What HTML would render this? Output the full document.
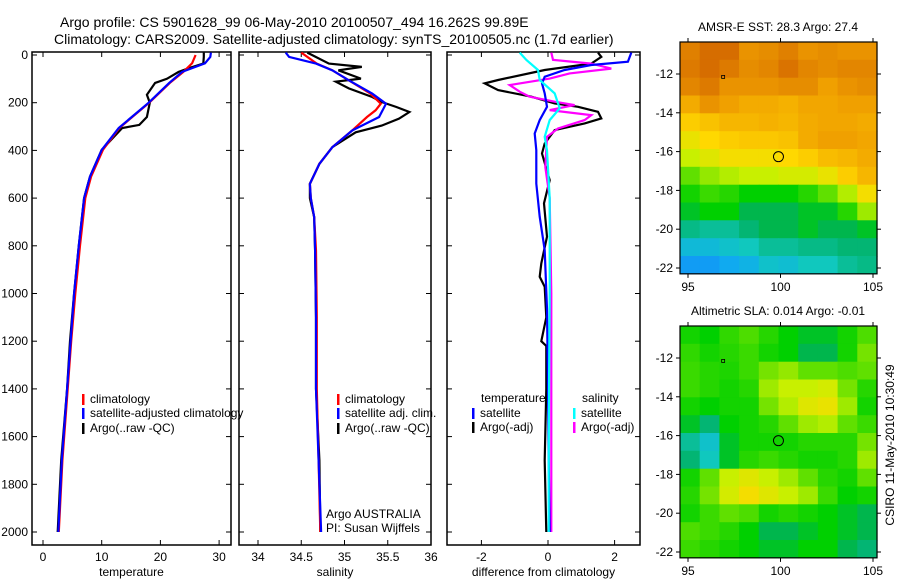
<!DOCTYPE html>
<html><head><meta charset="utf-8"><style>
body{margin:0;background:#fff;}
svg{display:block;font-family:"Liberation Sans",sans-serif;}
</style></head><body>
<svg id="c" width="900" height="580" viewBox="0 0 900 580">
<text x="60" y="27" font-size="14">Argo profile: CS 5901628_99 06-May-2010 20100507_494 16.262S 99.89E</text>
<text x="54" y="44" font-size="14">Climatology: CARS2009. Satellite-adjusted climatology: synTS_20100505.nc (1.7d earlier)</text>
</svg>
<script>
const NS='http://www.w3.org/2000/svg';
const svg=document.getElementById('c');
// ---- data ----
const depthTicks=[0,200,400,600,800,1000,1200,1400,1600,1800,2000];
const tempTicks=[0,10,20,30];
const salTicks=[34,34.5,35,35.5,36];
const diffTicks=[-2,0,2];
const tClimD=[0,35,71,117,200,306,398,510,600,800,1000,1200,1400,1700,2000];
const tClimV=[26,25.4,23.9,21.6,18.1,13.0,10.2,8.2,7.2,6.3,5.5,4.8,4.2,3.3,2.7];
const tSatD=[-10,8,35,71,117,200,306,398,510,600,800,1000,1200,1400,1700,2000];
const tSatV=[28.6,28.5,27.6,23.7,21.5,18,12.9,10,8,7,6.1,5.3,4.7,4.1,3.2,2.6];
const tArgoD=[-10,8,36,55,71,100,117,167,200,260,293,306,398,510,600,800,1000,1200,1400,1700,2000];
const tArgoV=[27.4,27.4,27.3,24.9,23.1,21.1,19.1,17.7,18.2,17.7,16.4,13.5,10,8,7,6.1,5.3,4.6,4.1,3.1,2.5];
const sClimD=[-10,36,64,106,162,204,232,260,316,386,456,540,600,680,820,1100,1400,1700,2000];
const sClimV=[34.5,34.68,34.86,35.05,35.3,35.42,35.36,35.26,35.09,34.86,34.71,34.6,34.61,34.65,34.67,34.68,34.68,34.7,34.72];
const sSatD=[-10,8,36,64,106,162,204,260,316,386,456,540,600,680,820,1100,1400,1700,2000];
const sSatV=[34.32,34.36,34.67,34.86,35.05,35.32,35.48,35.4,35.09,34.86,34.71,34.6,34.61,34.65,34.66,34.67,34.67,34.7,34.73];
const sArgoD=[-10,36,50,64,99,112,140,176,197,218,239,267,296,324,386,456,540,600,680,820,1100,1400,1700,2000];
const sArgoV=[34.57,34.82,35.2,34.93,35.19,34.9,35.05,35.32,35.43,35.6,35.75,35.63,35.43,35.13,34.86,34.71,34.6,34.6,34.65,34.66,34.67,34.67,34.71,34.72];
const dTSatD=[-10,28,42,63,91,119,161,217,273,329,399,539,678,818,1064,1400,1700,2000];
const dTSatV=[2.5,2.4,1.3,0.5,-0.1,-0.18,-0.1,-0.03,-0.25,-0.4,-0.35,-0.35,-0.25,-0.1,-0.03,0,0.02,0.05];
const dTArgoD=[-10,8,36,63,105,119,147,175,203,217,238,266,287,315,371,413,525,622,762,874,930,972,1100,1200,1220,1400,1700,2000];
const dTArgoV=[1.5,1.6,1.3,-0.1,-1.5,-1.9,-1.5,-0.5,0.2,0.9,1.5,1.6,1.1,0.2,-0.1,-0.18,0.05,-0.12,-0.03,-0.2,-0.25,-0.1,-0.05,-0.2,-0.05,-0.05,-0.1,-0.05];
const dSSatD=[-10,21,63,105,161,224,273,343,400,600,1000,1400,1700,2000];
const dSSatV=[-0.85,-0.65,-0.3,-0.25,0.2,0.35,0.05,-0.1,-0.03,0.05,0.05,0.03,0.02,0.02];
const dSArgoD=[-10,20,36,57,77,99,126,154,175,196,210,231,252,273,308,343,469,600,1000,1400,2000];
const dSArgoV=[0.1,0.15,1.3,1.9,0.65,0.05,-1.15,-0.85,-0.55,0.2,0.8,0.05,1.3,1.1,0.3,-0.03,-0.08,0.05,0.1,0.1,0.1];
const latTicks=[-12,-14,-16,-18,-20,-22];
const lonTicks=[95,100,105];
const sstGrid=[
[0.85,0.88,0.88,0.82,0.83,0.85,0.82,0.83,0.82,0.82],
[0.86,0.88,0.86,0.83,0.84,0.87,0.84,0.83,0.84,0.84],
[0.84,0.86,0.82,0.82,0.82,0.83,0.83,0.80,0.82,0.83],
[0.78,0.82,0.80,0.78,0.78,0.77,0.79,0.79,0.80,0.80],
[0.72,0.74,0.76,0.76,0.77,0.76,0.78,0.79,0.79,0.78],
[0.66,0.70,0.72,0.73,0.73,0.74,0.78,0.80,0.80,0.79],
[0.60,0.64,0.68,0.68,0.68,0.70,0.72,0.75,0.76,0.78],
[0.50,0.55,0.58,0.60,0.60,0.62,0.62,0.66,0.72,0.76],
[0.42,0.46,0.44,0.40,0.40,0.40,0.44,0.50,0.58,0.68],
[0.38,0.40,0.40,0.36,0.36,0.36,0.38,0.38,0.44,0.56],
[0.33,0.32,0.32,0.34,0.36,0.36,0.38,0.36,0.36,0.38],
[0.26,0.26,0.28,0.30,0.32,0.32,0.33,0.33,0.34,0.34],
[0.20,0.20,0.22,0.24,0.28,0.27,0.30,0.30,0.32,0.33]];
const slaGrid=[
[0.42,0.40,0.45,0.48,0.44,0.40,0.38,0.38,0.42,0.48],
[0.45,0.42,0.44,0.46,0.42,0.40,0.36,0.36,0.42,0.52],
[0.46,0.44,0.43,0.46,0.52,0.55,0.50,0.50,0.48,0.50],
[0.46,0.44,0.42,0.44,0.56,0.60,0.60,0.62,0.52,0.44],
[0.42,0.40,0.42,0.42,0.52,0.58,0.64,0.66,0.56,0.42],
[0.38,0.34,0.40,0.42,0.44,0.50,0.56,0.58,0.50,0.46],
[0.32,0.28,0.38,0.42,0.42,0.42,0.44,0.44,0.44,0.52],
[0.34,0.30,0.38,0.44,0.46,0.44,0.42,0.42,0.44,0.56],
[0.42,0.50,0.60,0.64,0.60,0.56,0.50,0.44,0.42,0.50],
[0.44,0.52,0.62,0.68,0.64,0.60,0.56,0.46,0.40,0.42],
[0.42,0.46,0.50,0.48,0.42,0.44,0.42,0.40,0.38,0.36],
[0.48,0.46,0.44,0.40,0.36,0.36,0.38,0.40,0.38,0.36],
[0.46,0.44,0.42,0.40,0.38,0.38,0.40,0.40,0.36,0.34]];
const argoLon=99.89, argoLat=-16.262;
// ---- helpers ----
function el(tag,attrs,parent){const e=document.createElementNS(NS,tag);for(const k in attrs)e.setAttribute(k,attrs[k]);(parent||svg).appendChild(e);return e;}
const yD=d=>55+d*0.2385;
function panel(x0,x1,xs,ticks,fmt,title,nm,showY){
  const g=el('g',{});
  
  
  el('rect',{x:x0,y:52,width:x1-x0,height:493,fill:'none',stroke:'#000','stroke-width':1.5},g);
  ticks.forEach(t=>{const x=xs(t);
    el('line',{x1:x,x2:x,y1:52,y2:57,stroke:'#000'},g);el('line',{x1:x,x2:x,y1:545,y2:540,stroke:'#000'},g);
    const tx=el('text',{x:x,y:561,'font-size':12,'text-anchor':'middle'},g);tx.textContent=fmt(t);
    
    });
  depthTicks.forEach(d=>{const y=yD(d);
    el('line',{x1:x0,x2:x0+5,y1:y,y2:y,stroke:'#000'},g);el('line',{x1:x1,x2:x1-5,y1:y,y2:y,stroke:'#000'},g);
    if(showY){const tx=el('text',{x:x0-4,y:y+4,'font-size':12,'text-anchor':'end'},g);tx.textContent=d;
      
      }});
  const tt=el('text',{x:(x0+x1)/2,y:576,'font-size':12,'text-anchor':'middle'},g);tt.textContent=title;
  
  
  return g;
}
function line(g,D,V,xs,col,nm,x0,x1){
  const cp='clip'+Math.round(x0);
  if(!document.getElementById(cp)){const c=el('clipPath',{id:cp});el('rect',{x:x0,y:52,width:x1-x0,height:493},c);}
  const p=el('polyline',{points:D.map((d,i)=>xs(V[i]).toFixed(1)+','+yD(d).toFixed(1)).join(' '),fill:'none',stroke:col,'stroke-width':2.2,'clip-path':'url(#'+cp+')'},g);
  
  
}
function legend(g,x,y,col,txt){
  el('rect',{x:x,y:y-9,width:2.5,height:11,fill:col},g);
  const t=el('text',{x:x+8,y:y,'font-size':12},g);t.textContent=txt;
  
  
}
// temperature panel
const xT=t=>43+t*5.87;
const gT=panel(32,231,xT,tempTicks,String,'temperature','temperature-panel',true);
line(gT,tArgoD,tArgoV,xT,'#000','temp-argo-line',32,231);
line(gT,tClimD,tClimV,xT,'#f00','temp-climatology-line',32,231);
line(gT,tSatD,tSatV,xT,'#00f','temp-satellite-line',32,231);
legend(gT,82,403,'#f00','climatology');legend(gT,82,417,'#00f','satellite-adjusted climatology');legend(gT,82,432,'#000','Argo(..raw -QC)');
// salinity
const xS=s=>258+(s-34)*86.5;
const gS=panel(239,431,xS,salTicks,String,'salinity','salinity-panel',false);
line(gS,sArgoD,sArgoV,xS,'#000','sal-argo-line',239,431);
line(gS,sClimD,sClimV,xS,'#f00','sal-climatology-line',239,431);
line(gS,sSatD,sSatV,xS,'#00f','sal-satellite-line',239,431);
legend(gS,337,403,'#f00','climatology');legend(gS,337,417,'#00f','satellite adj. clim.');legend(gS,337,432,'#000','Argo(..raw -QC)');
[['Argo AUSTRALIA',518],['PI: Susan Wijffels',532]].forEach(a=>{const t=el('text',{x:326,y:a[1],'font-size':12},gS);t.textContent=a[0];
  
  });
// difference
const xDf=v=>548+v*33.3;
const gD=panel(447,640,xDf,diffTicks,String,'difference from climatology','difference-panel',false);
line(gD,dTArgoD,dTArgoV,xDf,'#000','temp-diff-argo-line',447,640);
line(gD,dSArgoD,dSArgoV,xDf,'#f0f','sal-diff-argo-line',447,640);
line(gD,dTSatD,dTSatV,xDf,'#00f','temp-diff-satellite-line',447,640);
line(gD,dSSatD,dSSatV,xDf,'#0ff','sal-diff-satellite-line',447,640);
[['temperature',481],['salinity',582]].forEach(a=>{const t=el('text',{x:a[1],y:402,'font-size':12},gD);t.textContent=a[0];
  
  });
legend(gD,472,417,'#00f','satellite');legend(gD,472,431,'#000','Argo(-adj)');
legend(gD,573,417,'#0ff','satellite');legend(gD,573,431,'#f0f','Argo(-adj)');
// colormap
const stops=[[0.15,[20,120,255]],[0.22,[16,170,240]],[0.3,[16,200,190]],[0.35,[0,176,96]],[0.4,[0,208,0]],[0.5,[96,224,0]],[0.6,[200,240,0]],[0.7,[255,216,0]],[0.8,[240,160,0]],[0.9,[208,96,0]],[1,[176,32,0]]];
function cmap(v){for(let i=1;i<stops.length;i++){if(v<=stops[i][0]){const a=stops[i-1],b=stops[i],f=Math.max(0,(v-a[0])/(b[0]-a[0]));return 'rgb('+a[1].map((c,k)=>Math.round(c+(b[1][k]-c)*f)).join(',')+')';}}return 'rgb(176,32,0)';}
function map(top,bot,grid,title,nm){
  const x0=680,x1=877,lonX=l=>688+(l-95)*18.5,latY=la=>top+( -12-la)*((bot-top)/10);
  const g=el('g',{});
  
  
  const yTop=latY(-10.35),yBot=latY(-22.3);
  const rows=grid.length,cols=grid[0].length,cw=(x1-x0)/cols,ch=(yBot-yTop)/rows;
  grid.forEach((r,i)=>r.forEach((v,j)=>{const c=el('rect',{x:(x0+j*cw).toFixed(1),y:(yTop+i*ch).toFixed(1),width:(cw+0.6).toFixed(1),height:(ch+0.6).toFixed(1),fill:cmap(v)},g);
    
    }));
  el('rect',{x:x0,y:yTop,width:x1-x0,height:yBot-yTop,fill:'none',stroke:'#000','stroke-width':1.2},g);
  latTicks.forEach(la=>{const y=latY(la);el('line',{x1:x0,x2:x0-4,y1:y,y2:y,stroke:'#000'},g);el('line',{x1:x1,x2:x1+4,y1:y,y2:y,stroke:'#000'},g);
    const t=el('text',{x:673,y:y+4,'font-size':12,'text-anchor':'end'},g);t.textContent=la;
    
    });
  lonTicks.forEach(lo=>{const x=lonX(lo);el('line',{x1:x,x2:x,y1:yTop,y2:yTop-4,stroke:'#000'},g);el('line',{x1:x,x2:x,y1:yBot,y2:yBot+4,stroke:'#000'},g);
    const t=el('text',{x:x,y:yBot+17,'font-size':12,'text-anchor':'middle'},g);t.textContent=lo;
    
    });
  const t=el('text',{x:778,y:yTop-11,'font-size':12,'text-anchor':'middle'},g);t.textContent=title;
  
  
  const c=el('circle',{cx:lonX(argoLon),cy:latY(argoLat),r:5,fill:'none',stroke:'#000'},g);
  
  
  el('rect',{x:lonX(96.9)-1.5,y:latY(-12.15)-1.5,width:3,height:3,fill:'none',stroke:'#000','stroke-width':0.8},g);
}
map(74,268,sstGrid,'AMSR-E SST: 28.3 Argo: 27.4','sst-map');
map(358,552,slaGrid,'Altimetric SLA: 0.014 Argo: -0.01','sla-map');
const cs=el('text',{x:0,y:0,'font-size':12,'text-anchor':'middle',transform:'translate(894,445) rotate(-90)'});
cs.textContent='CSIRO 11-May-2010 10:30:49';


</script>
</body></html>
